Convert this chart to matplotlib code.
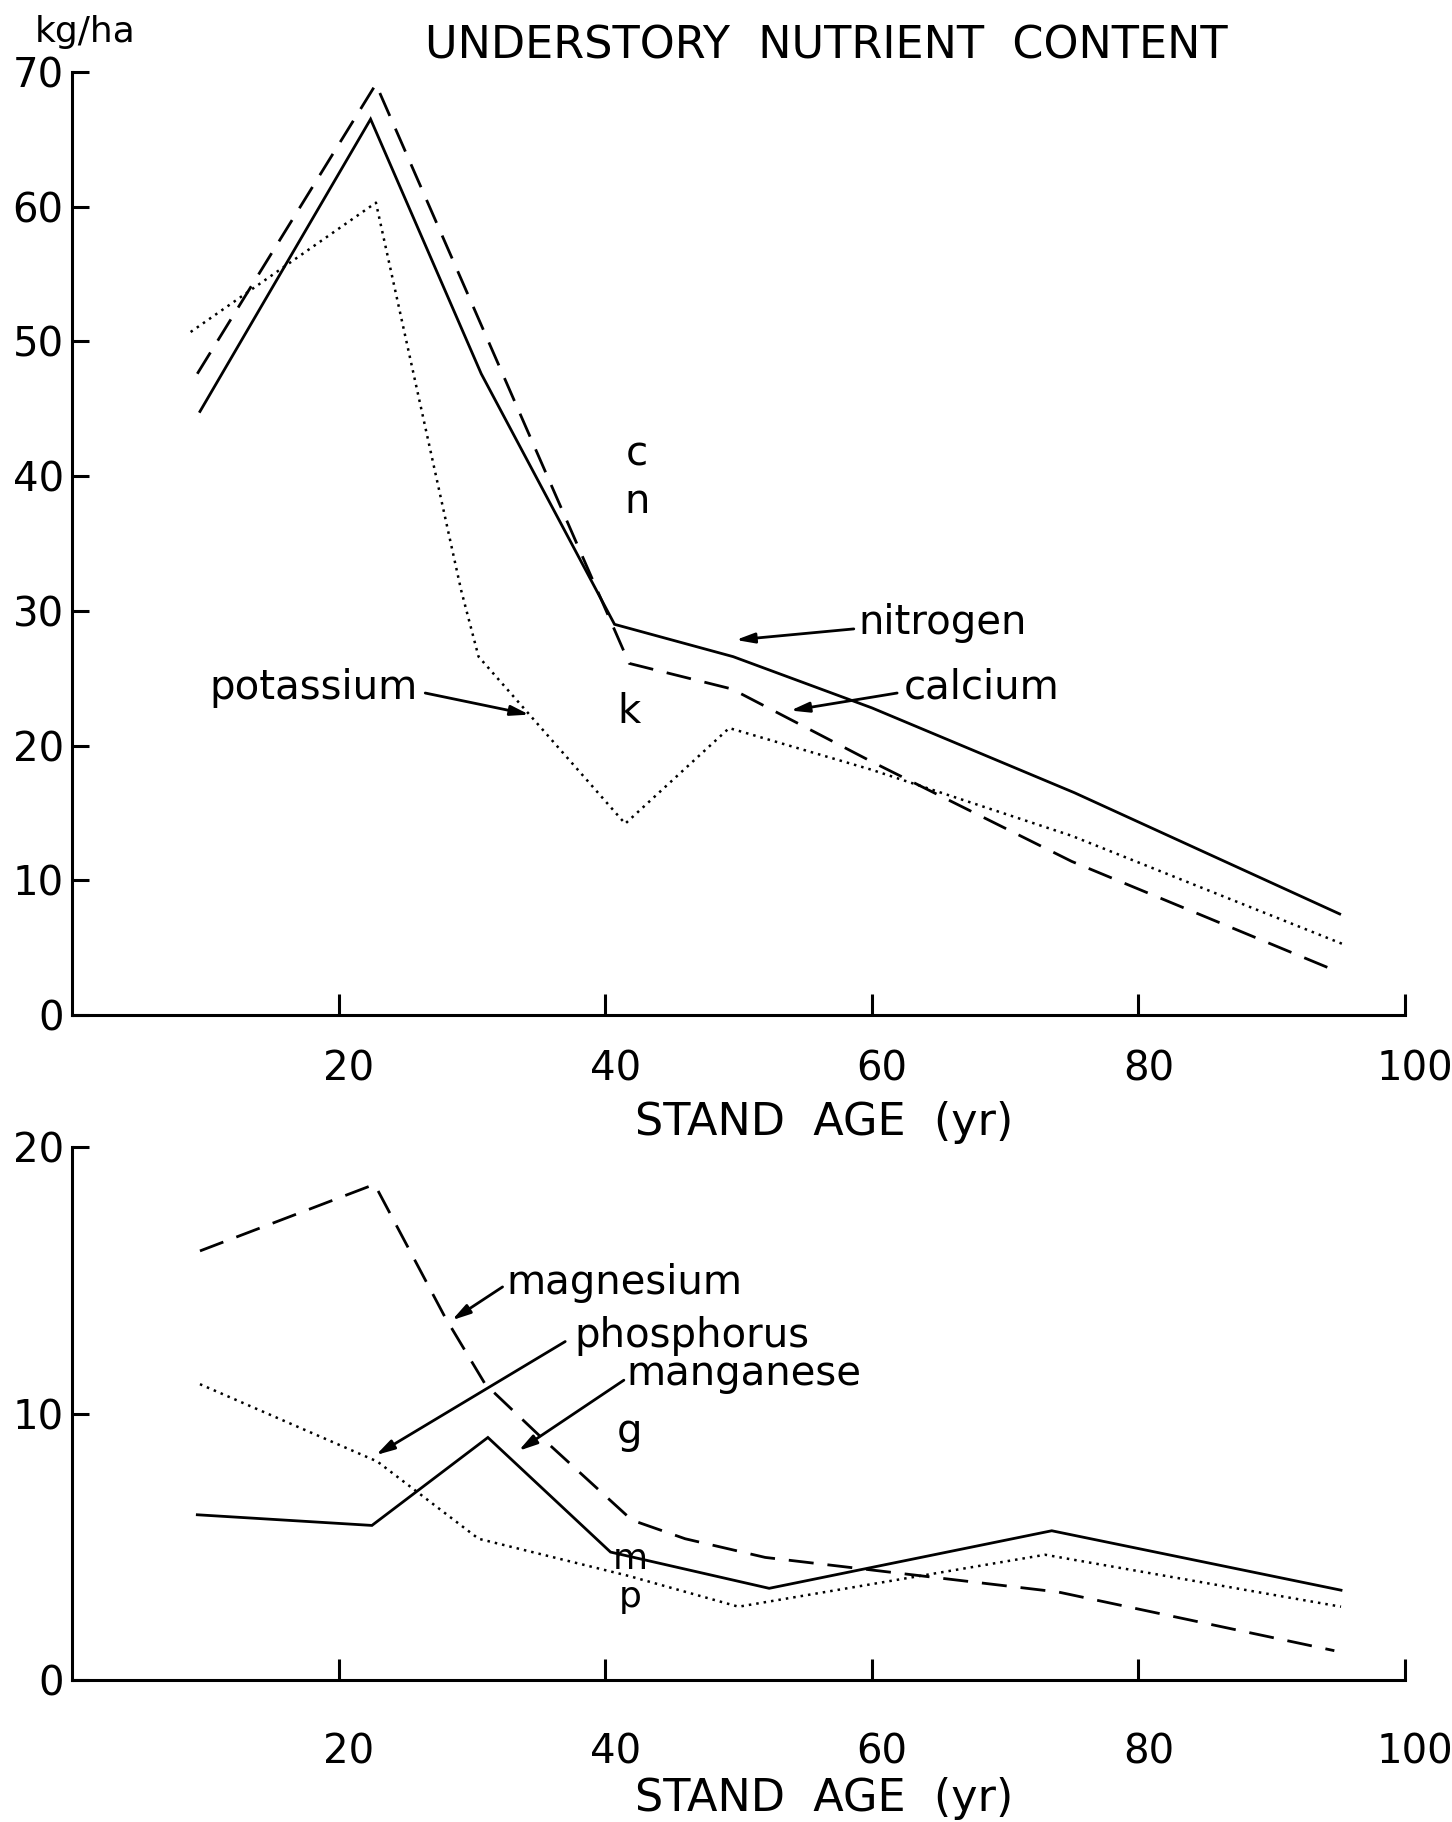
import matplotlib
matplotlib.use("Agg")
import matplotlib.pyplot as plt
import matplotlib.transforms as mtrans

# ---------------- data ----------------
# Top panel: kg/ha vs stand age (yr)
n_age = [9.6, 22.4, 30.7, 40.7, 49.6, 60.0, 75.2, 95.1]
nitrogen = [44.8, 66.5, 47.6, 29.0, 26.6, 22.8, 16.5, 7.5]

ca_age = [9.4, 22.8, 41.8, 49.5, 60.0, 75.0, 95.0]
calcium = [47.6, 69.1, 26.1, 24.2, 18.8, 11.4, 3.2]

k_age = [8.9, 22.8, 29.2, 30.5, 41.5, 49.3, 60.0, 75.0, 95.5]
potassium = [50.7, 60.3, 31.5, 26.6, 14.2, 21.3, 18.2, 13.3, 5.2]

# Bottom panel
mg_age = [9.6, 22.7, 28.0, 31.0, 35.0, 42.0, 46.0, 52.0, 74.0, 94.7]
magnesium = [16.1, 18.6, 13.6, 11.1, 9.2, 6.0, 5.3, 4.6, 3.3, 1.1]

mn_age = [9.4, 22.5, 31.2, 40.4, 52.3, 73.5, 95.2]
manganese = [6.2, 5.8, 9.1, 4.8, 3.44, 5.6, 3.37]

p_age = [9.6, 22.9, 30.5, 41.8, 50.0, 73.0, 95.2]
phosphorus = [11.1, 8.2, 5.3, 3.9, 2.75, 4.7, 2.75]

x_ticks = [20, 40, 60, 80, 100]
top_yticks = [0, 10, 20, 30, 40, 50, 60, 70]
bot_yticks = [0, 10, 20]

title = "UNDERSTORY  NUTRIENT  CONTENT"
xlabel = "STAND  AGE  (yr)"
ylabel = "kg/ha"

# ---------------- figure ----------------
W, H = 1452, 1822
fig = plt.figure(figsize=(W / 100, H / 100), dpi=100)
fig.patch.set_facecolor("white")

def frac_box(left_px, right_px, top_px, bottom_px):
    return [left_px / W, 1 - bottom_px / H, (right_px - left_px) / W, (bottom_px - top_px) / H]

ax1 = fig.add_axes(frac_box(72, 1405, 72, 1015))
ax2 = fig.add_axes(frac_box(72, 1405, 1147, 1680))

LW = 2.0
solid = dict(color="black", lw=LW, linestyle="-", solid_joinstyle="miter")
dashed = dict(color="black", lw=LW, linestyle=(0, (9, 5)))
dotted = dict(color="black", lw=1.8, linestyle=(0, (1, 2.0)))

ax1.plot(n_age, nitrogen, **solid)
ax1.plot(ca_age, calcium, **dashed)
ax1.plot(k_age, potassium, **dotted)

ax2.plot(mg_age, magnesium, **dashed)
ax2.plot(mn_age, manganese, **solid)
ax2.plot(p_age, phosphorus, **dotted)

tick_fs = 29
for ax, yt, ymax, pad in [(ax1, top_yticks, 70, 25), (ax2, bot_yticks, 20, 38)]:
    ax.set_xlim(0, 100)
    ax.set_ylim(0, ymax)
    for s in ["top", "right"]:
        ax.spines[s].set_visible(False)
    for s in ["left", "bottom"]:
        ax.spines[s].set_linewidth(2.2)
    ax.set_xticks(x_ticks)
    ax.set_xticklabels([str(t) for t in x_ticks])
    ax.set_yticks(yt)
    ax.set_yticklabels([str(t) for t in yt])
    ax.tick_params(axis="x", direction="in", length=15, width=2.2, pad=pad, labelsize=tick_fs)
    ax.tick_params(axis="y", direction="in", length=12, width=2.2, pad=6, labelsize=tick_fs)
    ax.set_facecolor("none")

# shift x tick labels slightly right like the original lettering
for ax in (ax1, ax2):
    off = mtrans.ScaledTranslation(10 / 100, 0, fig.dpi_scale_trans)
    for lab in ax.get_xticklabels():
        lab.set_transform(lab.get_transform() + off)

# titles / axis labels
fig.text(826 / W, 1 - 46 / H, title, ha="center", va="center", fontsize=32)
fig.text(85 / W, 1 - 32 / H, ylabel, ha="center", va="center", fontsize=26)
fig.text(824 / W, 1 - 1123 / H, xlabel, ha="center", va="center", fontsize=32)
fig.text(824 / W, 1 - 1798 / H, xlabel, ha="center", va="center", fontsize=32)

lab_fs = 29
arrow = dict(arrowstyle="-|>,head_length=1.1,head_width=0.3", color="black", lw=2.0,
             shrinkA=0, shrinkB=0)

# top annotations
ax1.text(42.4, 41.6, "c", fontsize=lab_fs, ha="center", va="center")
ax1.text(42.4, 38.1, "n", fontsize=lab_fs, ha="center", va="center")
ax1.text(41.8, 22.5, "k", fontsize=lab_fs, ha="center", va="center")

ax1.text(59.0, 29.1, "nitrogen", fontsize=lab_fs, ha="left", va="center")
ax1.annotate("", xy=(49.8, 27.84), xytext=(58.65, 28.66), arrowprops=arrow)
ax1.text(62.4, 24.3, "calcium", fontsize=lab_fs, ha="left", va="center")
ax1.annotate("", xy=(53.9, 22.6), xytext=(61.9, 23.9), arrowprops=arrow)
ax1.text(10.3, 24.3, "potassium", fontsize=lab_fs, ha="left", va="center")
ax1.annotate("", xy=(34.3, 22.3), xytext=(26.5, 23.9), arrowprops=arrow)

# bottom annotations
ax2.text(32.6, 14.9, "magnesium", fontsize=lab_fs, ha="left", va="center")
ax2.annotate("", xy=(28.5, 13.5), xytext=(32.3, 14.75), arrowprops=arrow)
ax2.text(37.7, 12.9, "phosphorus", fontsize=lab_fs, ha="left", va="center")
ax2.annotate("", xy=(22.8, 8.44), xytext=(37.0, 12.7), arrowprops=arrow)
ax2.text(41.6, 11.5, "manganese", fontsize=lab_fs, ha="left", va="center")
ax2.annotate("", xy=(33.5, 8.6), xytext=(41.4, 11.25), arrowprops=arrow)
ax2.text(41.8, 9.3, "g", fontsize=lab_fs, ha="center", va="center")
ax2.text(41.9, 4.15, "m", fontsize=26, ha="center", va="baseline")
ax2.text(41.9, 2.75, "p", fontsize=26, ha="center", va="baseline")

fig.savefig("out.png", dpi=100, facecolor="white")
